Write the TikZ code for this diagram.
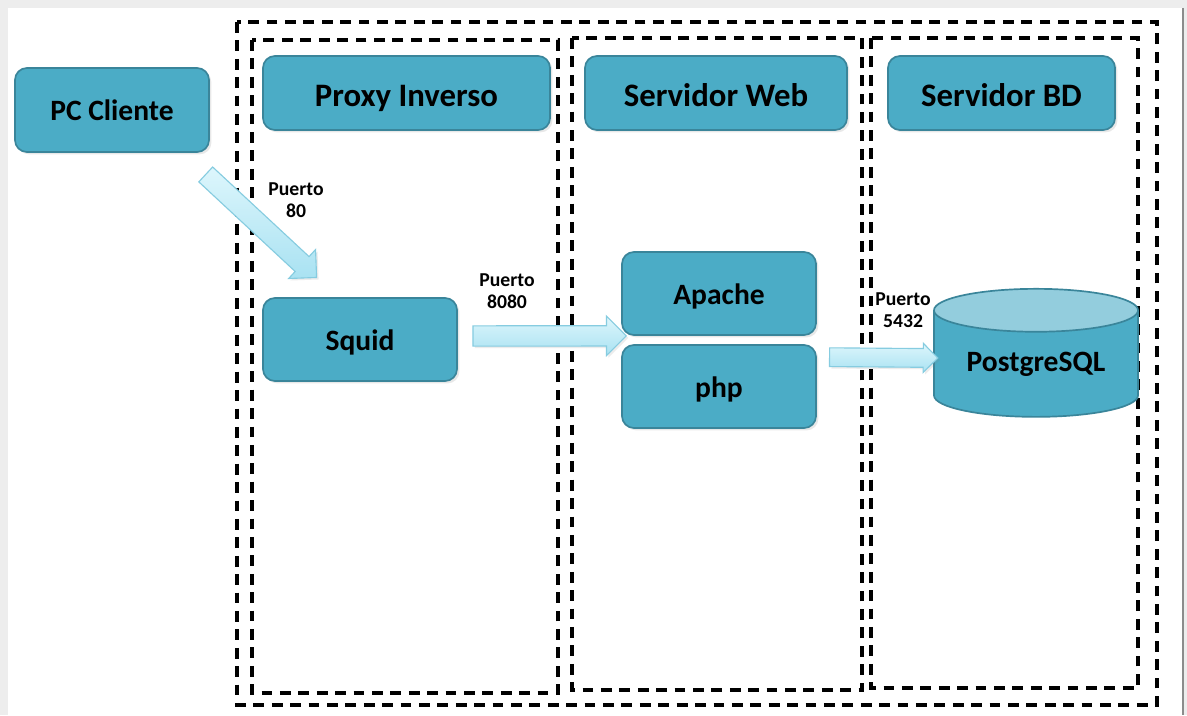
\documentclass[tikz,border=0pt]{standalone}
\usepackage{fontspec}
\setmainfont{Carlito}
\usetikzlibrary{positioning,calc,shapes.geometric,shapes.arrows,shadows}

\definecolor{boxfill}{HTML}{4BACC6}
\definecolor{boxline}{HTML}{3A859A}
\definecolor{dbtop}{HTML}{93CDDD}
\definecolor{arrowtop}{HTML}{DDF6FC}
\definecolor{arrowbottom}{HTML}{A9E2F2}
\definecolor{arrowline}{HTML}{86CCE0}

% block arrow between two named points
\newcommand{\portarrow}[3][]{%
  \path let \p1=($(#3)-(#2)$), \n1={veclen(\x1,\y1)}, \n2={atan2(\y1,\x1)} in
    node[port, minimum height=\n1, rotate=\n2, #1] at ($(#2)!0.5!(#3)$) {};}

\begin{document}
\begin{tikzpicture}[x=0.025cm, y=-0.025cm,
  srvbox/.style={draw=boxline, line width=1.2pt, fill=boxfill, rounded corners=0.3cm,
    font=\bfseries\fontsize{21}{24}\selectfont, text=black,
    text height=15.6pt, text depth=0pt,
    drop shadow={opacity=0.18, shadow xshift=0.06cm, shadow yshift=-0.06cm}},
  headbox/.style={srvbox, minimum height=1.85cm, font=\bfseries\fontsize{23.3}{26}\selectfont,
    text height=19pt},
  zone/.style={draw=black, line width=2.6pt, dash pattern=on 0.27cm off 0.19cm},
  port/.style={shape=single arrow, draw=arrowline, line width=0.8pt,
    top color=arrowtop, bottom color=arrowbottom,
    inner xsep=0pt, inner ysep=0.24cm, minimum width=0pt,
    single arrow head extend=0.24cm, single arrow tip angle=90,
    drop shadow={opacity=0.15, shadow xshift=0.05cm, shadow yshift=-0.05cm}},
  portlabel/.style={font=\bfseries\fontsize{14}{16}\selectfont, align=center}]

% --- frame ---
\fill[black!7] (0,0) rectangle (1187,715);
\fill[white] (8,8) rectangle (1182,715);
\draw[black!45, line width=1pt] (1183,8) -- (1183,715);

% --- dashed zones ---
\draw[zone] (237,22) rectangle (1157,705);
\draw[zone] (252,40) rectangle (558,693);
\draw[zone] (572,38) rectangle (862,690);
\draw[zone] (871,38) rectangle (1138,688);

% --- headers ---
\node (cliente) [srvbox, minimum width=4.85cm, minimum height=2.1cm] at (112,110) {PC Cliente};
\node (proxy) [headbox, minimum width=7.175cm] at (406.5,93) {Proxy Inverso};
\node (web) [headbox, minimum width=6.55cm] at (716,93) {Servidor Web};
\node (bd) [headbox, minimum width=5.675cm] at (1001.5,93) {Servidor BD};

% --- services ---
\node (squid) [srvbox, minimum width=4.85cm, minimum height=2.075cm] at (360,339.5) {Squid};
\node (apache) [srvbox, minimum width=4.85cm, minimum height=2.075cm] at (719,293.5) {Apache};
\node (php) [srvbox, minimum width=4.85cm, minimum height=2.075cm] at (719,386.5) {php};
\node (postgres) [draw=boxline, line width=1.2pt, shape=cylinder, shape border rotate=90, aspect=0.31,
  cylinder uses custom fill, cylinder body fill=boxfill, cylinder end fill=dbtop,
  minimum width=5.1cm, minimum height=3.2cm, inner sep=0pt,
  font=\bfseries\fontsize{21}{24}\selectfont] at (1036,364) {PostgreSQL};

% --- connections ---
\coordinate (c80a) at ($(cliente.south east)+(-8,18)$);
\coordinate (c80b) at ($(squid.north)+(-47,-23)$);
\coordinate (c8080a) at ($(squid.east)+(10,-3.5)$);
\coordinate (c8080b) at (apache.south west);
\coordinate (c5432a) at ($(php.north east)+(8,13)$);
\coordinate (c5432b) at ($(postgres.west)+(0,-6)$);

\portarrow{c80a}{c80b}
\portarrow{c8080a}{c8080b}
\portarrow[inner ysep=0.22cm, single arrow head extend=0.13cm]{c5432a}{c5432b}

\node (p80) [portlabel] at (296,200) {Puerto\\80};
\node (p8080) [portlabel] at (507,291) {Puerto\\8080};
\node (p5432) [portlabel] at (903,310) {Puerto\\5432};

\end{tikzpicture}
\end{document}
